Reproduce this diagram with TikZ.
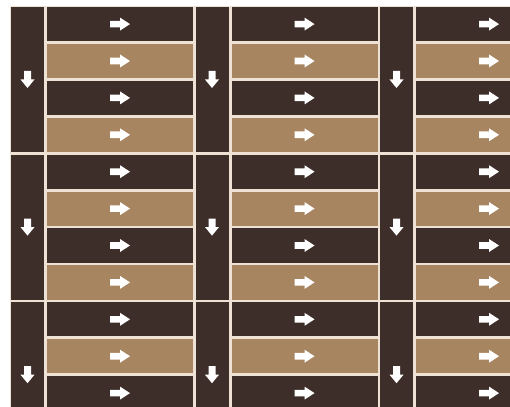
\documentclass[tikz,border=0pt]{standalone}
\definecolor{darkwood}{RGB}{61,46,42}
\definecolor{tanwood}{RGB}{168,133,97}
\definecolor{grout}{RGB}{238,226,212}
\tikzset{
  rarrow/.pic={\fill[white] (-10,-3.3) -- (0,-3.3) -- (0,-6.5) -- (10,0) -- (0,6.5) -- (0,3.3) -- (-10,3.3) -- cycle;},
  darrow/.pic={\fill[white] (-3.5,-8.5) -- (-3.5,0) -- (-7,0) -- (0,8.5) -- (7,0) -- (3.5,0) -- (3.5,-8.5) -- cycle;},
  darkplank/.style={fill=darkwood},
  tanplank/.style={fill=tanwood}
}
\begin{document}
\begin{tikzpicture}[x=1pt,y=-1pt]
\useasboundingbox (0,0) rectangle (510,406);
\fill[white] (0,0) rectangle (510,406);
\begin{scope}
\clip (0,0) rectangle (510,406);
\fill[grout] (10,6) rectangle (512,408);
\foreach \k in {0,1,2}{
  \pgfmathsetmacro{\sx}{11+184.5*\k}
  % vertical strips per block
  \foreach \b in {0,1,2}{
    \pgfmathsetmacro{\ty}{7+147.6*\b}
    \fill[darkwood] (\sx,\ty) rectangle ({\sx+33},{\ty+144.9});
    \pic at ({\sx+16.5},{\ty+72.5}) {darrow};
  }
  % planks
  \foreach \n in {0,...,10}{
    \pgfmathsetmacro{\py}{7+36.9*\n}
    \pgfmathtruncatemacro{\odd}{mod(\n,2)}
    \ifnum\odd=0
      \fill[darkwood] ({\sx+36},\py) rectangle ({\sx+182},{\py+34.2});
    \else
      \fill[tanwood] ({\sx+36},\py) rectangle ({\sx+182},{\py+34.2});
    \fi
    \pic at ({\sx+109},{\py+17.1}) {rarrow};
  }
}
\end{scope}
\end{tikzpicture}
\end{document}
